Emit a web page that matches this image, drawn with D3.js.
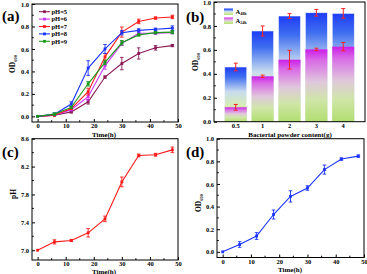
<!DOCTYPE html>
<html><head><meta charset="utf-8">
<script src="https://cdn.jsdelivr.net/npm/d3@7"></script>
<style>
html,body{margin:0;padding:0;background:#fff;}
svg text{font-family:"Liberation Serif","DejaVu Serif",serif;font-weight:bold;}
</style></head>
<body><svg id="c" width="367" height="274"></svg>
<script>
// ---------- DATA ----------
const timeH = [0, 6, 12, 18, 24, 30, 36, 42, 48];
const phLabels = ["pH=5", "pH=6", "pH=7", "pH=8", "pH=9"];
const od_pH5 = [0, 0.01, 0.04, 0.13, 0.35, 0.47, 0.56, 0.61, 0.63];
const od_pH6 = [0, 0.01, 0.06, 0.175, 0.45, 0.65, 0.74, 0.74, 0.745];
const od_pH7 = [0, 0.01, 0.07, 0.22, 0.53, 0.75, 0.845, 0.875, 0.885];
const od_pH8 = [0, 0.02, 0.11, 0.43, 0.60, 0.745, 0.765, 0.775, 0.785];
const od_pH9 = [0, 0.02, 0.08, 0.29, 0.48, 0.655, 0.725, 0.745, 0.75];
const err_pH5 = [0, 0.005, 0.01, 0.02, 0.01, 0.055, 0.05, 0.02, 0.01];
const err_pH6 = [0, 0.005, 0.01, 0.03, 0.03, 0.02, 0.02, 0.01, 0.01];
const err_pH7 = [0, 0.005, 0.01, 0.03, 0.03, 0.045, 0.02, 0.01, 0.015];
const err_pH8 = [0, 0.01, 0.02, 0.065, 0.04, 0.02, 0.015, 0.01, 0.02];
const err_pH9 = [0, 0.01, 0.01, 0.02, 0.02, 0.02, 0.01, 0.01, 0.015];

const powderCats = ["0.5", "1", "2", "3", "4"];
const a48 = [0.457, 0.758, 0.883, 0.91, 0.905];
const a48Err = [0.032, 0.042, 0.02, 0.028, 0.04];
const a24 = [0.12, 0.379, 0.518, 0.604, 0.627];
const a24Err = [0.024, 0.01, 0.078, 0.01, 0.035];

const phValue = [7.0, 7.12, 7.14, 7.25, 7.45, 7.98, 8.36, 8.37, 8.44];
const phErr = [0.005, 0.03, 0.015, 0.06, 0.04, 0.07, 0.02, 0.02, 0.04];

const odD = [0, 0.065, 0.14, 0.33, 0.49, 0.564, 0.727, 0.82, 0.846];
const odDErr = [0.005, 0.025, 0.03, 0.04, 0.05, 0.02, 0.04, 0.01, 0.01];

const timeTicks = [0, 10, 20, 30, 40, 50];
const odTicks = [0, 0.2, 0.4, 0.6, 0.8, 1.0];
const phTicks = [7.0, 7.4, 7.8, 8.2, 8.6];

// ---------- HELPERS ----------
const svg = d3.select("#c");
const defs = svg.append("defs");

function frame(g, x0, x1, y0, y1) {
  g.append("rect").attr("x", x0).attr("y", y1).attr("width", x1 - x0).attr("height", y0 - y1)
    .attr("fill", "none").attr("stroke", "#000").attr("stroke-width", 1);
}
function xAxisLinear(g, x, yPos, ticks) {
  const ax = g.append("g").attr("transform", `translate(0,${yPos})`)
    .call(d3.axisBottom(x).tickValues(ticks).tickSize(-3).tickPadding(1.5).tickFormat(d3.format("d")));
  ax.select(".domain").remove();
  ax.selectAll("text").attr("font-size", 6.5);
  const minor = ticks.slice(0, -1).map(t => t + 5);
  g.append("g").selectAll("line").data(minor).join("line")
    .attr("x1", d => x(d)).attr("x2", d => x(d)).attr("y1", yPos).attr("y2", yPos - 1.8)
    .attr("stroke", "#000");
}
function yAxisLinear(g, y, xPos, ticks, fmt, minorStep) {
  const ax = g.append("g").attr("transform", `translate(${xPos},0)`)
    .call(d3.axisLeft(y).tickValues(ticks).tickSize(-3).tickPadding(3).tickFormat(d3.format(fmt)));
  ax.select(".domain").remove();
  ax.selectAll("text").attr("font-size", 6.5);
  const minor = ticks.slice(0, -1).map(t => t + minorStep);
  g.append("g").selectAll("line").data(minor).join("line")
    .attr("x1", xPos).attr("x2", xPos + 1.8).attr("y1", d => y(d)).attr("y2", d => y(d))
    .attr("stroke", "#000");
}
function odTitle(g, x, y) {
  const t = g.append("text").attr("transform", `translate(${x},${y}) rotate(-90)`)
    .attr("text-anchor", "middle").attr("font-size", 7.5);
  t.append("tspan").text("OD");
  t.append("tspan").text("600").attr("font-size", 4.5).attr("dy", 1.5);
}
function panelLabel(x, y, txt) {
  svg.append("text").attr("x", x).attr("y", y).attr("font-size", 15).text(txt);
}
function errBars(g, xs, ys, es, x, y, color, cap) {
  xs.forEach((xv, i) => {
    if (es[i] <= 0.006) return;
    const px = x(xv), t = y(ys[i] + es[i]), b = y(ys[i] - es[i]);
    g.append("line").attr("x1", px).attr("x2", px).attr("y1", t).attr("y2", b).attr("stroke", color).attr("stroke-width", 0.9);
    [t, b].forEach(yy => g.append("line").attr("x1", px - cap).attr("x2", px + cap).attr("y1", yy).attr("y2", yy).attr("stroke", color).attr("stroke-width", 0.9));
  });
}
function series(g, xs, ys, x, y, color) {
  g.append("path").datum(xs.map((d, i) => [d, ys[i]]))
    .attr("d", d3.line().x(d => x(d[0])).y(d => y(d[1])))
    .attr("fill", "none").attr("stroke", color).attr("stroke-width", 1.1);
  g.append("g").selectAll("rect").data(xs.map((d, i) => [d, ys[i]])).join("rect")
    .attr("x", d => x(d[0]) - 1.4).attr("y", d => y(d[1]) - 1.4).attr("width", 2.8).attr("height", 2.8)
    .attr("fill", color);
}

// ---------- PANEL (a) ----------
{
  const g = svg.append("g");
  const x = d3.scaleLinear().domain([-2, 50]).range([32, 178]);
  const y = d3.scaleLinear().domain([-0.05, 1.0]).range([122, 4]);
  const cols = ["#8b1a55", "#cc33ff", "#ff1a1a", "#1a33ff", "#1a9a1a"];
  const vals = [od_pH5, od_pH6, od_pH7, od_pH8, od_pH9];
  const errs = [err_pH5, err_pH6, err_pH7, err_pH8, err_pH9];
  vals.forEach((v, k) => { errBars(g, timeH, v, errs[k], x, y, cols[k], 1.8); series(g, timeH, v, x, y, cols[k]); });
  frame(g, 32, 178, 122, 4);
  xAxisLinear(g, x, 122, timeTicks);
  yAxisLinear(g, y, 32, odTicks, ".1f", 0.1);
  g.append("text").attr("x", 104).attr("y", 137).attr("text-anchor", "middle").attr("font-size", 7).text("Time(h)");
  odTitle(g, 15, 64);
  const leg = g.append("g");
  phLabels.forEach((lab, k) => {
    const ly = 11.7 + k * 7.4;
    leg.append("line").attr("x1", 39).attr("x2", 50).attr("y1", ly).attr("y2", ly).attr("stroke", cols[k]).attr("stroke-width", 1.1);
    leg.append("rect").attr("x", 43.1).attr("y", ly - 1.4).attr("width", 2.8).attr("height", 2.8).attr("fill", cols[k]);
    leg.append("text").attr("x", 51.5).attr("y", ly + 2.3).attr("font-size", 6.5).text(lab);
  });
  panelLabel(2, 21, "(a)");
}

// ---------- PANEL (b) ----------
{
  const g = svg.append("g");
  const x = d3.scaleBand().domain(powderCats).range([214, 365]).paddingInner(0.18).paddingOuter(0.4);
  const y = d3.scaleLinear().domain([0, 1]).range([121.7, 2]);
  const g48 = defs.append("linearGradient").attr("id", "g48").attr("x1", 0).attr("y1", 0).attr("x2", 0).attr("y2", 1);
  [[0, "#1e3cf5"], [0.18, "#3f6ef0"], [0.45, "#c9dcef"], [0.7, "#d7ecb4"], [1, "#b6e07a"]].forEach(s => g48.append("stop").attr("offset", s[0]).attr("stop-color", s[1]));
  const g24 = defs.append("linearGradient").attr("id", "g24").attr("x1", 0).attr("y1", 0).attr("x2", 0).attr("y2", 1);
  [[0, "#cc1ee8"], [0.15, "#d86ae6"], [0.45, "#e0c8dc"], [0.7, "#cfe6a8"], [1, "#b2de70"]].forEach(s => g24.append("stop").attr("offset", s[0]).attr("stop-color", s[1]));
  powderCats.forEach((c, i) => {
    g.append("rect").attr("x", x(c)).attr("y", y(a48[i])).attr("width", x.bandwidth()).attr("height", y(0) - y(a48[i]))
      .attr("fill", "url(#g48)").attr("stroke", "#eef4ff").attr("stroke-width", 0.6);
    g.append("rect").attr("x", x(c)).attr("y", y(a24[i])).attr("width", x.bandwidth()).attr("height", y(0) - y(a24[i]))
      .attr("fill", "url(#g24)");
  });
  const cx = c => x(c) + x.bandwidth() / 2;
  powderCats.forEach((c, i) => {
    [[a48[i], a48Err[i]], [a24[i], a24Err[i]]].forEach(([v, e]) => {
      const px = cx(c), t = y(v + e), b = y(v - e);
      g.append("line").attr("x1", px).attr("x2", px).attr("y1", t).attr("y2", b).attr("stroke", "#ff2020").attr("stroke-width", 1);
      [t, b].forEach(yy => g.append("line").attr("x1", px - 2).attr("x2", px + 2).attr("y1", yy).attr("y2", yy).attr("stroke", "#ff2020").attr("stroke-width", 1));
    });
  });
  frame(g, 214, 365, 121.7, 2);
  const ax = g.append("g").attr("transform", "translate(0,121.7)").call(d3.axisBottom(x).tickSize(0).tickPadding(1.5));
  ax.select(".domain").remove();
  ax.selectAll("text").attr("font-size", 6.5);
  yAxisLinear(g, y, 214, odTicks, ".1f", 0.1);
  g.append("text").attr("x", 290).attr("y", 137).attr("text-anchor", "middle").attr("font-size", 7).text("Bacterial powder content(g)");
  odTitle(g, 198, 62);
  // legend
  const lx = 224;
  g.append("rect").attr("x", lx).attr("y", 8.5).attr("width", 9).attr("height", 6.5).attr("fill", "url(#g48)");
  g.append("rect").attr("x", lx).attr("y", 17.5).attr("width", 9).attr("height", 6.5).attr("fill", "url(#g24)");
  [["48h", 14], ["24h", 23]].forEach(([s, yy]) => {
    const t = g.append("text").attr("x", lx + 11.5).attr("y", yy).attr("font-size", 6.5).attr("font-weight", "normal");
    t.append("tspan").text("A");
    t.append("tspan").text(s).attr("font-size", 4).attr("dy", 1);
  });
  panelLabel(186, 22, "(b)");
}

// ---------- PANEL (c) ----------
{
  const g = svg.append("g");
  const x = d3.scaleLinear().domain([-2, 50]).range([32, 178]);
  const y = d3.scaleLinear().domain([6.86, 8.6]).range([260, 138.7]);
  errBars(g, timeH, phValue, phErr, x, y, "#ff1a1a", 1.8);
  series(g, timeH, phValue, x, y, "#ff1a1a");
  frame(g, 32, 178, 260, 138.7);
  xAxisLinear(g, x, 260, timeTicks);
  yAxisLinear(g, y, 32, phTicks, ".1f", 0.2);
  g.append("text").attr("x", 104).attr("y", 273.5).attr("text-anchor", "middle").attr("font-size", 7).text("Time(h)");
  g.append("text").attr("transform", "translate(16,194) rotate(-90)").attr("text-anchor", "middle").attr("font-size", 7.5).text("pH");
  panelLabel(2, 157, "(c)");
}

// ---------- PANEL (d) ----------
{
  const g = svg.append("g");
  const x = d3.scaleLinear().domain([-2, 50]).range([217, 364]);
  const y = d3.scaleLinear().domain([-0.05, 1.0]).range([257.5, 138.7]);
  errBars(g, timeH, odD, odDErr, x, y, "#1a33ff", 1.8);
  series(g, timeH, odD, x, y, "#1a33ff");
  frame(g, 217, 364, 257.5, 138.7);
  xAxisLinear(g, x, 257.5, timeTicks);
  yAxisLinear(g, y, 217, odTicks, ".1f", 0.1);
  g.append("text").attr("x", 290).attr("y", 271.5).attr("text-anchor", "middle").attr("font-size", 7).text("Time(h)");
  odTitle(g, 201, 203);
  panelLabel(186, 157, "(d)");
}
</script></body></html>
